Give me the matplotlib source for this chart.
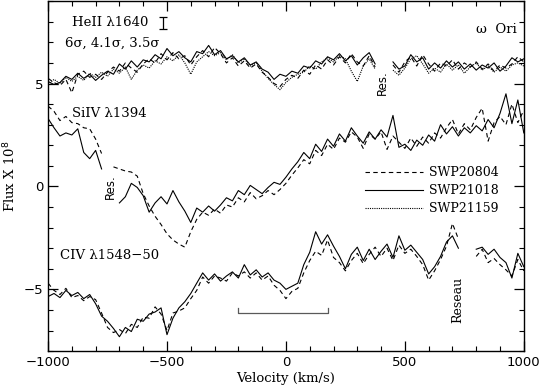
import matplotlib
matplotlib.use("Agg")
import matplotlib.pyplot as plt
import numpy as np

nan = np.nan

# velocity grid (km/s), 25 km/s steps
VEL = np.arange(-1000, 1001, 25)

# HeII 1640 (offset up)
HEII_21018 = [5.10, 4.95, 5.05, 5.35, 5.20, 5.50, 5.25, 5.45, 5.15, 5.40,
              5.60, 5.45, 5.95, 5.70, 6.10, 5.80, 6.15, 6.05, 6.40, 6.20,
              6.70, 6.35, 6.55, 6.25, 6.05, 6.55, 6.45, 6.85, 6.40, 6.60,
              6.20, 6.35, 6.05, 6.25, 5.90, 6.05, 5.70, 5.55, 5.20, 5.45,
              5.35, 5.60, 5.50, 5.85, 5.75, 6.10, 5.95, 6.30, 6.15, 6.45,
              6.10, 6.35, 5.90, 6.25, 6.50, 5.95, nan, nan, 6.05, 5.70,
              5.85, 6.40, 6.05, 6.25, 5.70, 6.00, 5.75, 6.10, 5.80, 6.05,
              5.70, 5.95, 5.65, 5.90, 5.75, 6.00, 5.60, 5.85, 6.25, 6.05,
              6.20]
HEII_20804 = [5.25, 5.05, 4.90, 5.20, 4.55, 5.45, 5.60, 5.30, 5.45, 5.20,
              5.55, 5.80, 5.60, 6.00, 5.75, 5.55, 5.95, 6.20, 6.00, 6.45,
              6.15, 6.50, 6.20, 6.35, 5.90, 6.30, 6.60, 6.30, 6.75, 6.45,
              6.00, 6.25, 5.85, 6.10, 5.75, 5.95, 5.55, 5.30, 5.00, 4.85,
              5.20, 5.40, 5.25, 5.65, 5.45, 5.90, 5.70, 6.15, 5.90, 6.30,
              6.00, 6.45, 6.05, 5.85, 6.35, 5.80, nan, nan, 5.90, 5.55,
              6.05, 6.30, 5.85, 6.40, 5.95, 5.60, 6.00, 5.85, 6.15, 5.70,
              6.00, 5.80, 6.05, 5.70, 5.95, 5.60, 5.90, 5.75, 5.95, 6.30,
              6.05]
HEII_21159 = [4.95, 5.20, 5.00, 5.30, 5.10, 5.35, 5.15, 5.50, 5.30, 5.55,
              5.35, 5.70, 5.50, 5.80, 5.20, 5.65, 5.90, 5.75, 6.10, 5.95,
              6.30, 6.10, 6.40, 6.00, 5.45, 6.05, 6.30, 6.55, 6.35, 6.50,
              6.15, 6.40, 6.00, 6.20, 5.85, 6.00, 5.60, 5.25, 4.95, 4.70,
              5.05, 5.30, 5.45, 5.55, 5.85, 5.70, 6.05, 6.25, 6.05, 6.35,
              6.20, 5.60, 5.10, 5.85, 6.20, 5.70, nan, nan, 5.65, 5.40,
              5.75, 6.20, 6.35, 5.95, 5.50, 5.75, 5.55, 5.95, 5.65, 5.90,
              5.50, 5.80, 6.00, 5.65, 5.85, 5.55, 5.80, 5.60, 5.90, 6.00,
              5.85]

# SiIV 1394
SIIV_21018 = [3.30, 2.85, 2.45, 2.60, 2.50, 2.80, 1.65, 1.35, 1.75, 0.85,
              nan, nan, -0.80, -0.50, 0.15, -0.05, -0.45, -1.25, -0.80, -0.50,
              -0.85, -0.20, -0.75, -1.20, -1.75, -1.05, -1.25, -0.95, -1.20, -0.90,
              -0.55, -0.70, -0.20, -0.40, 0.05, -0.15, -0.35, -0.05, 0.20, 0.10,
              0.45, 0.85, 1.20, 1.65, 1.35, 2.05, 1.70, 2.30, 1.95, 2.55,
              2.20, 2.85, 2.45, 2.10, 2.65, 2.30, 2.75, 2.40, 3.45, 1.90,
              2.05, 1.75, 2.25, 2.00, 2.50, 2.20, 3.00, 2.55, 2.90, 2.45,
              2.85, 2.60, 2.95, 2.70, 3.25, 2.85, 3.55, 4.50, 3.05, 4.20,
              2.60]
SIIV_20804 = [3.90, 3.65, 3.20, 3.40, 3.10, 3.05, 2.85, 2.80, 2.30, 1.60,
              nan, 0.95, 0.85, 0.75, 0.70, 0.50, -0.35, -0.95, -1.45, -1.85,
              -2.30, -2.60, -2.80, -2.95, -2.20, -1.60, -1.25, -1.40, -1.10, -1.30,
              -0.90, -1.00, -0.55, -0.75, -0.30, -0.60, -0.45, -0.20, -0.40, -0.15,
              0.15, 0.55, 0.90, 1.30, 1.10, 1.75, 1.50, 2.05, 1.80, 2.35,
              2.15, 2.65, 2.40, 1.85, 2.55, 2.30, 2.65, 1.80, 2.45, 2.15,
              1.85, 2.35, 1.95, 2.40, 2.10, 2.60, 2.35, 2.85, 3.25, 2.55,
              3.05, 2.75, 3.35, 3.80, 2.20, 3.10, 3.40, 3.00, 4.00, 3.10,
              3.70]

# CIV 1548-50 (offset down)
CIV_21018 = [-5.35, -5.20, -5.40, -5.05, -5.30, -5.15, -5.45, -5.25, -5.70, -6.30,
             -6.55, -6.90, -7.30, -6.85, -7.05, -6.45, -6.55, -6.20, -6.10, -5.90,
             -7.20, -6.40, -5.90, -5.60, -5.20, -4.70, -4.20, -4.55, -4.25, -4.60,
             -4.35, -4.15, -4.45, -3.80, -4.30, -4.05, -4.40, -4.20, -4.55, -4.70,
             -5.00, -4.85, -4.70, -3.80, -3.20, -2.20, -2.80, -2.35, -2.90, -3.40,
             -4.00, -3.30, -2.95, -3.60, -3.05, -3.55, -3.15, -2.80, -3.45, -2.40,
             -3.10, -2.85, -3.20, -3.55, -4.25, -3.90, -3.40, -2.70, -2.40, -3.00,
             nan, nan, -3.05, -2.95, -3.30, -3.05, -3.45, -3.70, -4.45, -3.25,
             -3.90]
CIV_20804 = [-4.70, -5.05, -5.25, -4.95, -5.40, -5.30, -5.55, -5.35, -5.50, -6.15,
             -6.85, -7.10, -6.95, -7.15, -6.70, -6.85, -6.35, -6.40, -5.85, -6.20,
             -7.00, -6.15, -6.05, -5.90, -5.45, -5.05, -4.40, -4.70, -4.35, -4.45,
             -4.60, -4.20, -4.35, -4.15, -4.45, -4.20, -4.55, -4.35, -4.80, -5.05,
             -5.45, -5.10, -4.95, -4.20, -3.60, -3.15, -3.35, -2.60, -3.45, -3.70,
             -4.10, -3.60, -3.25, -3.75, -3.30, -2.95, -3.40, -3.00, -3.60, -2.85,
             -3.25, -3.05, -3.40, -3.80, -4.55, -4.10, -3.55, -2.90, -1.80, -2.55,
             nan, nan, -3.40, -3.05, -3.70, -3.50, -3.80, -4.05, -4.35, -3.55,
             -4.10]

LEGEND = ["SWP20804", "SWP21018", "SWP21159"]

SERIF = "DejaVu Serif"
DASH = (0, (4, 3))
DOT = (0, (1, 1))

fig = plt.figure(figsize=(5.4, 3.91), dpi=100)
ax = fig.add_axes([0.089, 0.102, 0.881, 0.895])

kw = dict(color="black", linewidth=0.8)
ax.plot(VEL, HEII_20804, linestyle=DASH, **kw)
ax.plot(VEL, HEII_21018, linestyle="-", **kw)
ax.plot(VEL, HEII_21159, linestyle=DOT, **kw)
ax.plot(VEL, SIIV_20804, linestyle=DASH, **kw)
ax.plot(VEL, SIIV_21018, linestyle="-", **kw)
ax.plot(VEL, CIV_20804, linestyle=DASH, **kw)
ax.plot(VEL, CIV_21018, linestyle="-", **kw)

# hand-drawn style legend
for yy, ls, lab in zip([0.68, -0.19, -1.06], [DASH, "-", DOT], LEGEND):
    ax.plot([332, 575], [yy, yy], linestyle=ls, **kw)
    ax.text(600, yy, lab, family=SERIF, fontsize=9, va="center", ha="left")

# bracket
ax.plot([-202, -202, 176, 176], [-5.92, -6.17, -6.17, -5.92], color="0.35", linewidth=0.9)

# error bar symbol
ax.errorbar([-517], [7.95], yerr=[[0.3], [0.3]], color="black", capsize=3,
            elinewidth=0.9, capthick=0.9)

ax.text(-900, 7.95, "HeII \u03bb1640", family=SERIF, fontsize=9.5, va="center")
ax.text(-930, 6.95, "6\u03c3, 4.1\u03c3, 3.5\u03c3", family=SERIF, fontsize=9.5, va="center")
ax.text(970, 7.6, "\u03c9  Ori", family=SERIF, fontsize=9.5, va="center", ha="right")
ax.text(-900, 3.55, "SiIV \u03bb1394", family=SERIF, fontsize=9.5, va="center")
ax.text(-950, -3.35, "CIV \u03bb1548\u221250", family=SERIF, fontsize=9.5, va="center")
ax.text(-740, 0.0, "Res.", family="DejaVu Sans", fontsize=8.5, rotation=90,
        va="center", ha="center")
ax.text(407, 5.05, "Res.", family="DejaVu Sans", fontsize=8.5, rotation=90,
        va="center", ha="center")
ax.text(723, -5.5, "Reseau", family=SERIF, fontsize=9, rotation=90,
        va="center", ha="center")

ax.set_xlim(-1000, 1000)
ax.set_ylim(-8, 9)
ax.set_xticks([-1000, -500, 0, 500, 1000])
ax.set_xticks(np.arange(-1000, 1001, 100), minor=True)
ax.set_yticks([-5, 0, 5])
ax.set_yticks(np.arange(-8, 10, 1), minor=True)
ax.tick_params(which="both", direction="in", top=True, right=True, labelsize=9.5)
ax.tick_params(which="major", length=7, width=0.9)
ax.tick_params(which="minor", length=3.5, width=0.8)
for lab in ax.get_xticklabels() + ax.get_yticklabels():
    lab.set_family("DejaVu Sans")
for s in ax.spines.values():
    s.set_linewidth(1.0)

ax.set_xlabel("Velocity (km/s)", family=SERIF, fontsize=9.5, labelpad=2)
ax.set_ylabel("Flux X 10$^8$", family=SERIF, fontsize=9.5, labelpad=4)

fig.savefig("out.png", dpi=100)
